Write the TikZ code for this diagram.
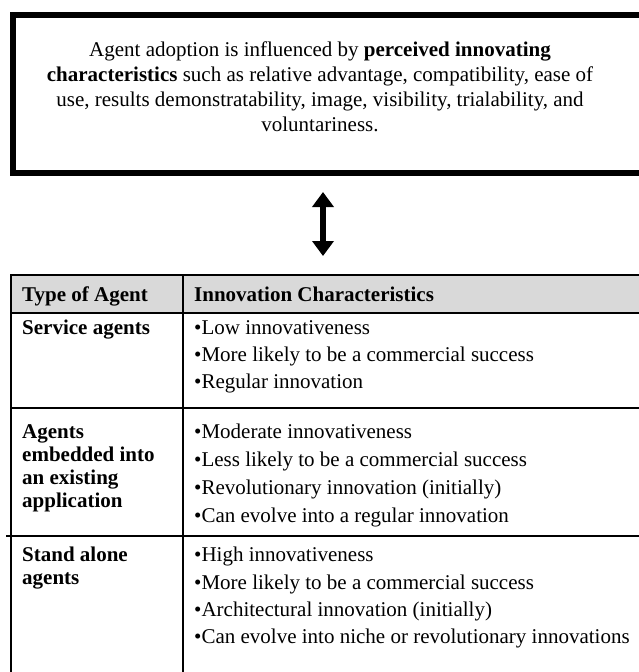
\documentclass[tikz,border=0pt]{standalone}
\usepackage{fontspec}
\setmainfont{Liberation Serif}
\usetikzlibrary{arrows.meta}
\definecolor{hdrgray}{RGB}{217,217,217}
\begin{document}
\begin{tikzpicture}[x=1pt,y=-1pt,
  boxline/.style={draw=black,line width=6pt},
  tline/.style={draw=black,line width=2.2pt},
  ttxt/.style={anchor=base west,inner sep=0pt,font=\fontsize{21}{24}\selectfont},
  btxt/.style={ttxt,font=\fontsize{21}{24}\selectfont\bfseries},
  bigarrow/.style={line width=6pt,{Triangle[width=21pt,length=15pt]}-{Triangle[width=21pt,length=15pt]}}
]
\useasboundingbox (0,0) rectangle (639,672);
\clip (0,0) rectangle (639,672);
% top box
\node[boxline,anchor=north west,minimum width=660pt,minimum height=158pt,inner sep=0pt] (topbox) at (10,12) {};
\node[align=center,inner sep=0pt,font=\fontsize{21}{25}\selectfont] (toptext) at (320,87)
  {Agent adoption is influenced by \textbf{perceived innovating}\\
   \textbf{characteristics} such as relative advantage, compatibility, ease of\\
   use, results demonstratability, image, visibility, trialability, and\\
   voluntariness.};
% arrow
\coordinate (atop) at (323,192);
\coordinate (abot) at (323,256);
\draw[bigarrow] (atop) -- (abot);
% table
\fill[hdrgray] (11,275) rectangle (660,313);
\draw[tline] (11,275) -- (660,275);
\draw[tline] (11,313) -- (660,313);
\draw[tline,line width=2.8pt] (11,408) -- (660,408);
\draw[tline,line width=2.8pt] (6,536) -- (660,536);
\draw[tline] (11,274) -- (11,680);
\draw[tline] (183,274) -- (183,680);
% header
\node[btxt] (h1) at (22,301) {Type of Agent};
\node[btxt] (h2) at (194,301) {Innovation Characteristics};
% row 1
\node[btxt] (r1a) at (22,334) {Service agents};
\node[ttxt] (r1b1) at (194,334) {•Low innovativeness};
\node[ttxt] (r1b2) at (194,361) {•More likely to be a commercial success};
\node[ttxt] (r1b3) at (194,388) {•Regular innovation};
% row 2
\node[btxt] (r2a1) at (22,438) {Agents};
\node[btxt] (r2a2) at (22,461) {embedded into};
\node[btxt] (r2a3) at (22,484) {an existing};
\node[btxt] (r2a4) at (22,507) {application};
\node[ttxt] (r2b1) at (194,438) {•Moderate innovativeness};
\node[ttxt] (r2b2) at (194,466) {•Less likely to be a commercial success};
\node[ttxt] (r2b3) at (194,494) {•Revolutionary innovation (initially)};
\node[ttxt] (r2b4) at (194,522) {•Can evolve into a regular innovation};
% row 3
\node[btxt] (r3a1) at (22,561) {Stand alone};
\node[btxt] (r3a2) at (22,584) {agents};
\node[ttxt] (r3b1) at (194,561) {•High innovativeness};
\node[ttxt] (r3b2) at (194,589) {•More likely to be a commercial success};
\node[ttxt] (r3b3) at (194,616) {•Architectural innovation (initially)};
\node[ttxt] (r3b4) at (194,643) {•Can evolve into niche or revolutionary innovations};
\end{tikzpicture}
\end{document}
